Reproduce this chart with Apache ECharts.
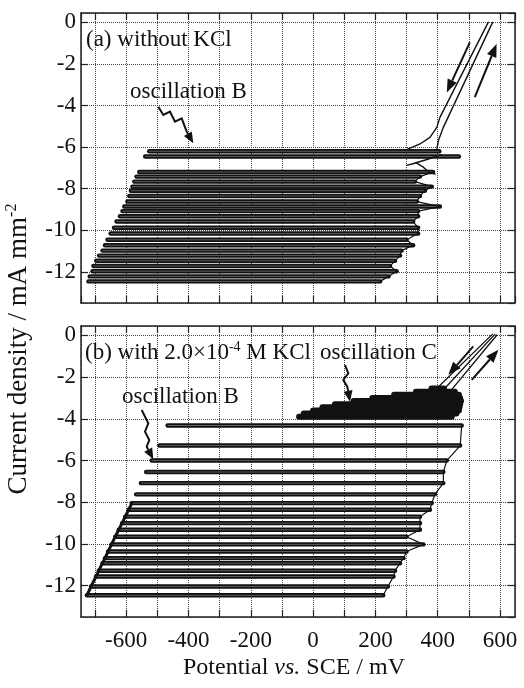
<!DOCTYPE html>
<html><head><meta charset="utf-8">
<script src="https://cdn.jsdelivr.net/npm/echarts@6/dist/echarts.min.js"></script>
<style>html,body{margin:0;padding:0;background:#fff}#c{width:524px;height:688px}</style>
</head><body><div id="c"></div>
<script>
// ---- tick labels ----
const xTickLabels = [-600, -400, -200, 0, 200, 400, 600];
const yTickLabels = [0, -2, -4, -6, -8, -10, -12];

// ---- panel (a) without KCl : oscillation loops (current level, left / right potential) ----
const aLevel = [-6.20,-6.45,-7.20,-7.42,-7.66,-7.90,-8.10,-8.35,-8.62,-8.86,-9.08,-9.33,-9.58,-9.88,-10.16,-10.46,-10.72,-10.98,-11.22,-11.47,-11.72,-11.97,-12.22,-12.46];
const aLeft  = [-526,-539,-558,-567,-574,-580,-585,-590,-596,-606,-612,-620,-631,-639,-650,-660,-668,-676,-687,-696,-705,-708,-717,-721];
const aRight = [405,468,385,343,327,381,359,343,333,407,337,337,321,337,337,300,321,284,279,263,247,268,242,215];
// passive branches (a)
const aRevX = [300,343,375,397,407,562];
const aRevY = [-6.12,-5.85,-5.53,-5.05,-4.57,0.0];
const aFwdX = [397,402,418,576];
const aFwdY = [-6.12,-5.69,-5.05,0.0];
const aConn1X = [411,360,320,300];
const aConn1Y = [-6.37,-6.62,-6.80,-6.88];
const aConn2X = [330,355,372,392];
const aConn2Y = [-6.75,-6.98,-7.22,-7.30];
const aArrowDown = [[503,-0.96],[429,-3.37]];
const aArrowUp   = [[519,-3.60],[589,-1.04]];

// ---- panel (b) with KCl ----
const bLevel = [-4.32,-5.28,-6.00,-6.55,-7.08,-7.62,-8.04,-8.36,-8.69,-9.00,-9.32,-9.65,-10.02,-10.36,-10.68,-10.92,-11.28,-11.56,-12.04,-12.46];
const bLeft  = [-467,-493,-518,-536,-553,-568,-582,-592,-603,-613,-624,-635,-647,-658,-668,-676,-688,-697,-713,-726];
const bRight = [477,472,429,418,418,391,381,375,343,343,343,300,354,300,290,279,263,258,240,225];
// oscillation C band
const cLevel = [-2.55,-2.70,-2.85,-3.00,-3.15,-3.30,-3.45,-3.60,-3.75,-3.90];
const cLeft  = [380,330,260,190,130,70,30,0,-30,-45];
const cRight = [420,455,468,472,475,472,470,468,460,445];
// passive branches (b)
const bBr1X = [400,575], bBr1Y = [-2.50,0.05];
const bBr2X = [420,583], bBr2Y = [-2.58,0.05];
const bBr3X = [440,590], bBr3Y = [-2.68,0.02];
const bArrowDown = [[514,-0.53],[434,-1.89]];
const bArrowUp   = [[509,-2.13],[595,-0.69]];

const FONT = 'Liberation Serif';
const INK = '#111';

function zip(xs, ys) { return xs.map((x, i) => [x, ys[i]]); }
function loops(lv, le, ri) { return lv.map((y, i) => ({coords: [[le[i], y], [ri[i], y]]})); }

function xAx(gi, pos, lab) {
  return {type: 'value', gridIndex: gi, position: pos, min: -745, max: 648, splitNumber: 14,
    axisLine: {show: true, onZero: false, lineStyle: {color: '#222', width: 1.5}},
    axisTick: {show: true, inside: true, length: 7, lineStyle: {color: '#222', width: 1.2}},
    splitLine: {show: pos === 'bottom', lineStyle: {type: 'dotted', color: '#444', width: 1}},
    axisLabel: {show: lab, showMinLabel: false, showMaxLabel: false,
      formatter: v => xTickLabels.includes(v) ? String(v) : '',
      color: INK, fontFamily: FONT, fontSize: 23, margin: 12}};
}
function yAx(gi, pos) {
  return {type: 'value', gridIndex: gi, position: pos, min: -13.5, max: 0.45, splitNumber: 7,
    axisLine: {show: true, onZero: false, lineStyle: {color: '#222', width: 1.5}},
    axisTick: {show: true, inside: true, length: 7, lineStyle: {color: '#222', width: 1.2}},
    splitLine: {show: pos === 'left', lineStyle: {type: 'dotted', color: '#444', width: 1}},
    axisLabel: {show: pos === 'left', showMinLabel: false, showMaxLabel: false,
      formatter: v => yTickLabels.includes(v) ? String(v) : '',
      color: INK, fontFamily: FONT, fontSize: 23, margin: 5}};
}
function linesSeries(gi, data, width, color, cap, z) {
  return {type: 'lines', coordinateSystem: 'cartesian2d', xAxisIndex: gi * 2, yAxisIndex: gi * 2,
    polyline: true, silent: true, z: z, data: data,
    lineStyle: {color: color, width: width, opacity: 1, cap: cap || 'round', join: 'round'}};
}
function arrowShapes(points, lw, hl, hw) {
  const n = points.length, t = points[n - 1], p = points[n - 2];
  const dx = t[0] - p[0], dy = t[1] - p[1], L = Math.hypot(dx, dy);
  const ux = dx / L, uy = dy / L;
  const bx = t[0] - ux * hl, by = t[1] - uy * hl;
  return [
    {type: 'polyline', shape: {points: points.slice(0, n - 1).concat([[bx, by]])}, style: {stroke: INK, lineWidth: lw, fill: null}, z: 30},
    {type: 'polygon', shape: {points: [t, [bx - uy * hw, by + ux * hw], [bx + uy * hw, by - ux * hw]]}, style: {fill: INK}, z: 30}
  ];
}

const chart = echarts.init(document.getElementById('c'), null, {renderer: 'canvas'});
const texts = [
  {type: 'text', x: 86, y: 40, z: 30, style: {text: '(a) without KCl', fontFamily: FONT, fontSize: 23, fill: INK, align: 'left', verticalAlign: 'middle'}},
  {type: 'text', x: 130, y: 92, z: 30, style: {text: 'oscillation B', fontFamily: FONT, fontSize: 23, fill: INK, align: 'left', verticalAlign: 'middle'}},
  {type: 'text', x: 85, y: 353, z: 30, style: {text: '{n|(b) with 2.0×10}{s|-4}{n| M KCl}', fontFamily: FONT, fill: INK, align: 'left', verticalAlign: 'middle',
    rich: {n: {fontFamily: FONT, fontSize: 23, lineHeight: 26, fill: INK}, s: {fontFamily: FONT, fontSize: 14, lineHeight: 14, verticalAlign: 'top', fill: INK}}}},
  {type: 'text', x: 320, y: 353, z: 30, style: {text: 'oscillation C', fontFamily: FONT, fontSize: 23, fill: INK, align: 'left', verticalAlign: 'middle'}},
  {type: 'text', x: 122, y: 397, z: 30, style: {text: 'oscillation B', fontFamily: FONT, fontSize: 23, fill: INK, align: 'left', verticalAlign: 'middle'}},
  {type: 'text', x: 294, y: 668, z: 30, style: {text: '{n|Potential }{i|vs.}{n| SCE / mV}', align: 'center', verticalAlign: 'middle',
    rich: {n: {fontFamily: FONT, fontSize: 24, fill: INK}, i: {fontFamily: FONT, fontStyle: 'italic', fontSize: 24, fill: INK}}}},
  {type: 'text', x: 19, y: 349, rotation: Math.PI / 2, z: 30, style: {text: '{n|Current density / mA mm}{s|-2}', align: 'center', verticalAlign: 'middle',
    rich: {n: {fontFamily: FONT, fontSize: 27, lineHeight: 30, fill: INK}, s: {fontFamily: FONT, fontSize: 16, lineHeight: 16, verticalAlign: 'top', fill: INK}}}}
];
const squiggles = []
  .concat(arrowShapes([[158.3,106.7],[163.3,115],[170,111.7],[175,121.7],[181.7,118.3],[186.7,131.7],[193.3,143.3]], 2, 11, 4.5))
  .concat(arrowShapes([[141.7,410],[148.3,423.3],[145,431.7],[149.3,440],[146.7,446.7],[153.3,459.3]], 2, 11, 4.5))
  .concat(arrowShapes([[345,365],[348.3,373.3],[343.3,380],[347.3,386.7],[350,401.7]], 2, 11, 4.5));

const option = {
  animation: false,
  backgroundColor: '#fff',
  grid: [
    {left: 81, top: 13, width: 434, height: 290},
    {left: 81, top: 326, width: 434, height: 291}
  ],
  xAxis: [xAx(0, 'bottom', false), xAx(0, 'top', false), xAx(1, 'bottom', true), xAx(1, 'top', false)],
  yAxis: [yAx(0, 'left'), yAx(0, 'right'), yAx(1, 'left'), yAx(1, 'right')],
  series: [
    // panel a
    linesSeries(0, loops(aLevel, aLeft, aRight), 4.4, INK, 'round', 5),
    linesSeries(0, loops(aLevel, aLeft, aRight), 1.0, '#5c5c5c', 'butt', 6),
    linesSeries(0, [{coords: zip(aRight, aLevel).slice(2)}], 1.2, INK, 'round', 7),
    linesSeries(0, [{coords: zip(aRevX, aRevY)}, {coords: zip(aFwdX, aFwdY)},
      {coords: zip(aConn1X, aConn1Y)}, {coords: zip(aConn2X, aConn2Y)}], 1.4, INK, 'round', 7),
    // panel b
    linesSeries(1, loops(bLevel, bLeft, bRight), 4.4, INK, 'round', 5),
    linesSeries(1, loops(bLevel, bLeft, bRight), 1.0, '#5c5c5c', 'butt', 6),
    linesSeries(1, [{coords: zip(bRight, bLevel)}], 1.2, INK, 'round', 7),
    linesSeries(1, [{coords: zip(bLeft, bLevel).slice(6)}], 3, INK, 'round', 7),
    linesSeries(1, loops(cLevel, cLeft, cRight), 6, INK, 'round', 8),
    linesSeries(1, [{coords: zip(bBr1X, bBr1Y)}, {coords: zip(bBr2X, bBr2Y)}, {coords: zip(bBr3X, bBr3Y)}], 1.3, INK, 'round', 7)
  ],
  graphic: texts.concat(squiggles)
};
chart.setOption(option);

// straight arrows beside the passive branches, placed through the axes' scales
const px = (g, p) => chart.convertToPixel({gridIndex: g}, p);
const straight = []
  .concat(arrowShapes([px(0, aArrowDown[0]), px(0, aArrowDown[1])], 2, 13, 5))
  .concat(arrowShapes([px(0, aArrowUp[0]), px(0, aArrowUp[1])], 2, 13, 5))
  .concat(arrowShapes([px(1, bArrowDown[0]), px(1, bArrowDown[1])], 2, 13, 5))
  .concat(arrowShapes([px(1, bArrowUp[0]), px(1, bArrowUp[1])], 2, 13, 5));
chart.setOption({graphic: texts.concat(squiggles).concat(straight)}, {replaceMerge: ['graphic']});
</script>
</body></html>
